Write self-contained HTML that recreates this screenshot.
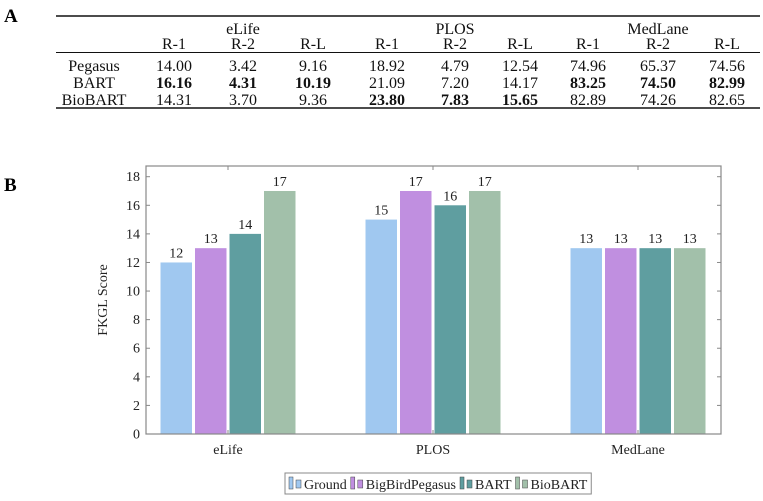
<!DOCTYPE html>
<html><head><meta charset="utf-8"><style>
body{margin:0;background:#fff;width:763px;height:496px;overflow:hidden;font-family:"Liberation Serif",serif}
</style></head><body>
<svg width="763" height="496" xmlns="http://www.w3.org/2000/svg">
<g id="tbl" font-family="Liberation Serif, serif" font-size="16" fill="#111" text-anchor="middle"></g>
<g id="chart"></g>
</svg>
<script>
const NS='http://www.w3.org/2000/svg';
function mk(p,tag,attrs,text){const e=document.createElementNS(NS,tag);for(const k in attrs)e.setAttribute(k,attrs[k]);if(text!==undefined)e.textContent=text;p.appendChild(e);return e;}
const svg=document.querySelector('svg');
const tbl=document.getElementById('tbl');
const chart=document.getElementById('chart');

// ---- Table data ----
const datasets=['eLife','PLOS','MedLane'];
const metrics=['R-1','R-2','R-L'];
const models=['Pegasus','BART','BioBART'];
const rowPegasus=['14.00','3.42','9.16','18.92','4.79','12.54','74.96','65.37','74.56'];
const rowBART=['16.16','4.31','10.19','21.09','7.20','14.17','83.25','74.50','82.99'];
const rowBioBART=['14.31','3.70','9.36','23.80','7.83','15.65','82.89','74.26','82.65'];
const boldPegasus=[0,0,0,0,0,0,0,0,0];
const boldBART=[1,1,1,0,0,0,1,1,1];
const boldBioBART=[0,0,0,1,1,1,0,0,0];

const colX=[174,243,313,387,455,520,588,658,727];
let t=mk(svg,'text',{x:4,y:22,'font-size':19,'font-weight':'bold','font-family':'Liberation Serif, serif'},'A');

t=mk(svg,'text',{x:4,y:191,'font-size':19,'font-weight':'bold','font-family':'Liberation Serif, serif'},'B');


let l=mk(tbl,'line',{x1:56,x2:760,y1:16,y2:16,stroke:'#111','stroke-width':1.6});

l=mk(tbl,'line',{x1:56,x2:760,y1:52.5,y2:52.5,stroke:'#111','stroke-width':1});

l=mk(tbl,'line',{x1:56,x2:760,y1:108,y2:108,stroke:'#111','stroke-width':1.6});

datasets.forEach((d,i)=>{
  const e=mk(tbl,'text',{x:colX[i*3+1],y:34},d);
  
  metrics.forEach((m,j)=>{
    const h=mk(tbl,'text',{x:colX[i*3+j],y:49},m);
    
  });
});
const rows=[rowPegasus,rowBART,rowBioBART];
const bolds=[boldPegasus,boldBART,boldBioBART];
const rowY=[71,88,105];
models.forEach((m,r)=>{
  const e=mk(tbl,'text',{x:94,y:rowY[r]},m);
  
  rows[r].forEach((v,c)=>{
    const a={x:colX[c],y:rowY[r]};if(bolds[r][c])a['font-weight']='bold';
    const ce=mk(tbl,'text',a,v);
    
  });
});

// ---- Chart data ----
const categories=['eLife','PLOS','MedLane'];
const seriesNames=['Ground','BigBirdPegasus','BART','BioBART'];
const ground=[12,15,13];
const bigbird=[13,17,13];
const bart=[14,16,13];
const biobart=[17,17,13];
const yTicks=[0,2,4,6,8,10,12,14,16,18];
const colors=['#a0c8f0','#c08fe0','#5f9ea0','#a2c0aa'];

const L=146,R=721,T=166,B=434;
const yS=v=>B-(v/18)*(B-176.7);
const catX=i=>228+i*205;
const barW=31.5,step=34.5;
const series=[ground,bigbird,bart,biobart];
const font='Liberation Serif, serif';

series.forEach((s,si)=>{
  s.forEach((v,ci)=>{
    const x=catX(ci)+(si-1.5)*step-barW/2;
    const b=mk(chart,'rect',{x:x,y:yS(v),width:barW,height:B-yS(v),fill:colors[si]});
    
    
    const lb=mk(chart,'text',{x:x+barW/2,y:yS(v)-5,'font-size':14,'font-family':font,'text-anchor':'middle',fill:'#222'},String(v));
    
  });
});
const frame=mk(chart,'rect',{x:L,y:T,width:R-L,height:B-T,fill:'none',stroke:'#888','stroke-width':1.2});

yTicks.forEach(v=>{
  const y=yS(v);
  mk(chart,'line',{x1:L,x2:L+4,y1:y,y2:y,stroke:'#888'});
  mk(chart,'line',{x1:R-4,x2:R,y1:y,y2:y,stroke:'#888'});
  const tx=mk(chart,'text',{x:L-6,y:y+4.5,'font-size':14,'font-family':font,'text-anchor':'end',fill:'#222'},String(v));
  
});
categories.forEach((c,i)=>{
  const x=catX(i);
  mk(chart,'line',{x1:x,x2:x,y1:B,y2:B-4,stroke:'#888'});
  mk(chart,'line',{x1:x,x2:x,y1:T,y2:T+4,stroke:'#888'});
  const tx=mk(chart,'text',{x:x,y:B+20,'font-size':14,'font-family':font,'text-anchor':'middle',fill:'#222'},c);
  
});
const yt=mk(chart,'text',{x:0,y:0,'font-size':14,'font-family':font,'text-anchor':'middle',fill:'#222',transform:'translate(107,300) rotate(-90)'},'FKGL Score');


// legend
const lg=mk(chart,'g',{});

const box=mk(lg,'rect',{x:285,y:473,width:296,height:21,fill:'#fff',stroke:'#888'});
let lx=289;
seriesNames.forEach((n,i)=>{
  const g=mk(lg,'g',{});
  
  mk(g,'rect',{x:lx,y:477,width:4,height:12,fill:colors[i],stroke:'#444','stroke-width':0.5});
  mk(g,'rect',{x:lx+7,y:480,width:5,height:8,fill:colors[i],stroke:'#444','stroke-width':0.5});
  const tx=mk(g,'text',{x:lx+15,y:489,'font-size':14,'font-family':font,fill:'#222'},n);
  lx+=15+tx.getComputedTextLength()+4;
});
box.setAttribute('width',lx-285);
</script>
</body></html>
